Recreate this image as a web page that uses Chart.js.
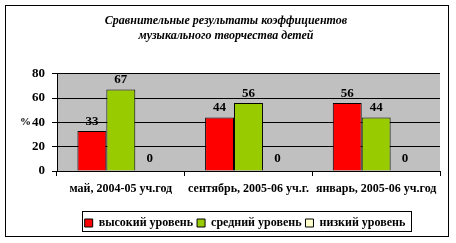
<!DOCTYPE html>
<html>
<head>
<meta charset="utf-8">
<script src="https://cdn.jsdelivr.net/npm/chart.js@4/dist/chart.umd.min.js"></script>
<style>
  body { margin: 0; background: #fff; }
  #wrap { width: 456px; height: 243px; }
</style>
</head>
<body>
<div id="wrap"><canvas id="chart" width="456" height="243"></canvas></div>
<script>
const titleLines = [
  "Сравнительные результаты коэффициентов",
  "музыкального творчества детей",
];
const periods = [
  "май, 2004-05 уч.год",
  "сентябрь, 2005-06 уч.г.",
  "январь, 2005-06 уч.год",
];
const seriesNames = ["высокий уровень", "средний уровень", "низкий уровень"];
const highLevel = [33, 44, 56];
const middleLevel = [67, 56, 44];
const lowLevel = [0, 0, 0];
const yTicks = [0, 20, 40, 60, 80];

const serif = "'Liberation Serif', 'Times New Roman', serif";

// frame, grey plot area, "%" label, value labels, legend frame
const decor = {
  id: "decor",
  afterLayout(chart) {
    const lg = chart.legend;
    lg.left += 19;
    lg.right += 19;
  },
  beforeDraw(chart) {
    const { ctx, chartArea: a } = chart;
    ctx.save();
    ctx.fillStyle = "#fff";
    ctx.fillRect(0, 0, chart.width, chart.height);
    ctx.strokeStyle = "#000";
    ctx.lineWidth = 1;
    ctx.strokeRect(5.5, 5.5, 443, 231);
    ctx.fillStyle = "#c0c0c0";
    ctx.fillRect(a.left, a.top, a.right - a.left, a.bottom - a.top);
    ctx.restore();
  },
  afterDatasetsDraw(chart) {
    const { ctx } = chart;
    ctx.save();
    ctx.fillStyle = "#000";
    ctx.font = "bold 13px " + serif;
    ctx.textAlign = "center";
    ctx.textBaseline = "bottom";
    chart.data.datasets.forEach((ds, i) => {
      chart.getDatasetMeta(i).data.forEach((bar, j) => {
        const off = ds.data[j] === 0 ? 6 : 3;
        ctx.fillText(String(ds.data[j]), bar.x, bar.y - off);
      });
    });
    const y = chart.scales.y;
    ctx.font = "bold 11px " + serif;
    ctx.textAlign = "left";
    ctx.textBaseline = "middle";
    ctx.fillText("%", 20, y.getPixelForValue(40));
    ctx.restore();
  },
  afterDraw(chart) {
    const { ctx } = chart;
    const lg = chart.legend;
    const w = lg.lineWidths[0];
    const x0 = (lg.left + 10 + lg.right - w) / 2;
    ctx.save();
    ctx.strokeStyle = "#000";
    ctx.lineWidth = 1;
    ctx.strokeRect(Math.round(x0 - 6) + 0.5, 211.5, Math.round(w + 4), 20);
    ctx.restore();
  },
};

new Chart(document.getElementById("chart"), {
  type: "bar",
  data: {
    labels: periods,
    datasets: [
      { label: seriesNames[0], data: highLevel, backgroundColor: "#ff0000" },
      { label: seriesNames[1], data: middleLevel, backgroundColor: "#99cc00" },
      { label: seriesNames[2], data: lowLevel, backgroundColor: "#ffffcc" },
    ].map((d) => ({
      ...d,
      borderColor: "#000",
      borderWidth: 1,
      categoryPercentage: 0.68,
      barPercentage: 1,
    })),
  },
  options: {
    responsive: false,
    animation: false,
    layout: { padding: { left: 12, right: 16, top: 0, bottom: 4 } },
    plugins: {
      title: {
        display: true,
        text: titleLines,
        color: "#000",
        font: { family: serif, size: 12, style: "italic", weight: "bold", lineHeight: 1.2 },
        padding: { top: 14, bottom: 31 },
      },
      legend: {
        position: "bottom",
        labels: {
          color: "#000",
          font: { family: serif, size: 12, weight: "bold" },
          boxWidth: 8,
          boxHeight: 8,
          padding: 4,
          generateLabels(chart) {
            return chart.data.datasets.map((ds, i) => ({
              text: ds.label,
              fillStyle: ds.backgroundColor,
              strokeStyle: "#000",
              lineWidth: 1,
              fontColor: "#000",
              datasetIndex: i,
            }));
          },
        },
      },
      tooltip: { enabled: false },
    },
    scales: {
      x: {
        grid: {
          display: true,
          drawOnChartArea: false,
          drawTicks: true,
          tickLength: 5,
          color: "#000",
          offset: true,
        },
        border: { color: "#000" },
        ticks: {
          color: "#000",
          font: { family: serif, size: 12, weight: "bold" },
          padding: 6,
          maxRotation: 0,
        },
        afterFit: (s) => { s.height = 42; },
      },
      y: {
        min: 0,
        max: 80,
        afterBuildTicks: (s) => { s.ticks = yTicks.map((v) => ({ value: v })); },
        grid: { color: "#000", tickLength: 5 },
        border: { color: "#000" },
        ticks: {
          color: "#000",
          font: { family: serif, size: 13, weight: "bold" },
          padding: 7,
        },
        afterFit: (s) => { s.width = 45; },
      },
    },
  },
  plugins: [decor],
});
</script>
</body>
</html>
